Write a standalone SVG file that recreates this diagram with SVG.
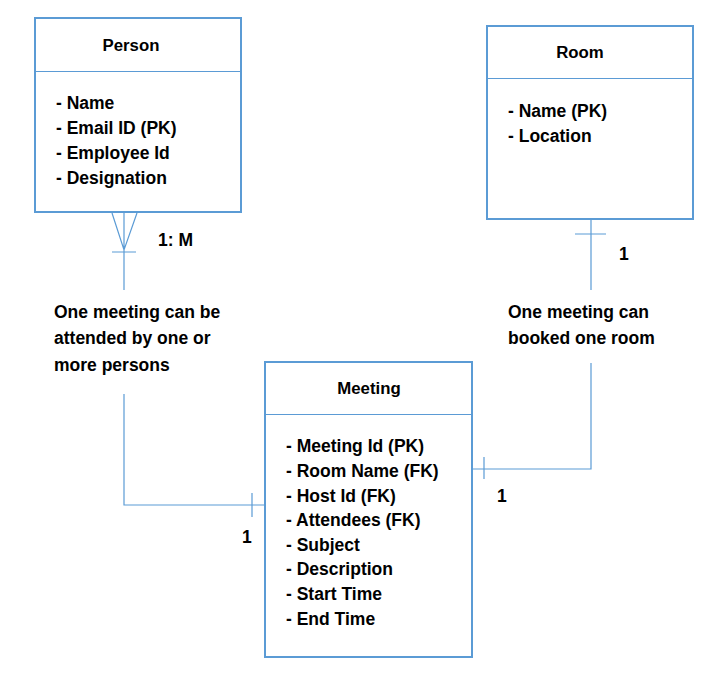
<svg xmlns="http://www.w3.org/2000/svg" width="722" height="677" viewBox="0 0 722 677">
<style>
.box{fill:#fff;stroke:#5b9bd5;stroke-width:2}
.sep{stroke:#5b9bd5;stroke-width:1}
.c{fill:none;stroke:#5b9bd5;stroke-width:1.2}
text{font-family:"Liberation Sans",Arial,sans-serif;font-weight:bold;font-size:17.5px;fill:#000}
.t{text-anchor:middle;font-size:16.8px}
</style>
<rect width="722" height="677" fill="#fff"/>
<g id="connectors">
<path class="c" d="M124 212V290M112 213L124 250L137 213M112 252H136"/>
<path class="c" d="M124 394V505H265M252 493V517"/>
<path class="c" d="M591 219V290M575 234H606"/>
<path class="c" d="M591 363V469H472M484 457V479"/>
</g>
<g id="person">
<rect class="box" x="35" y="18" width="206" height="194"/>
<line class="sep" x1="35" y1="71.5" x2="241" y2="71.5"/>
<text class="t" x="131" y="51">Person</text>
<text x="56" y="109">- Name</text>
<text x="56" y="134">- Email ID (PK)</text>
<text x="56" y="159">- Employee Id</text>
<text x="56" y="184">- Designation</text>
</g>
<g id="room">
<rect class="box" x="487" y="26" width="206" height="193"/>
<line class="sep" x1="487" y1="78.5" x2="693" y2="78.5"/>
<text class="t" x="580" y="58">Room</text>
<text x="508" y="117">- Name (PK)</text>
<text x="508" y="142">- Location</text>
</g>
<g id="meeting">
<rect class="box" x="265" y="362" width="207" height="295"/>
<line class="sep" x1="265" y1="414.5" x2="472" y2="414.5"/>
<text class="t" x="369" y="394">Meeting</text>
<text x="286" y="452">- Meeting Id (PK)</text>
<text x="286" y="477">- Room Name (FK)</text>
<text x="286" y="502">- Host Id (FK)</text>
<text x="286" y="526">- Attendees (FK)</text>
<text x="286" y="551">- Subject</text>
<text x="286" y="575">- Description</text>
<text x="286" y="600">- Start Time</text>
<text x="286" y="625">- End Time</text>
</g>
<g id="labels">
<text x="158" y="246">1: M</text>
<text x="619" y="260">1</text>
<text x="497" y="502">1</text>
<text x="242" y="543">1</text>
<text x="54" y="318">One meeting can be</text>
<text x="54" y="344">attended by one or</text>
<text x="54" y="371">more persons</text>
<text x="508" y="318">One meeting can</text>
<text x="508" y="344">booked one room</text>
</g>
</svg>
